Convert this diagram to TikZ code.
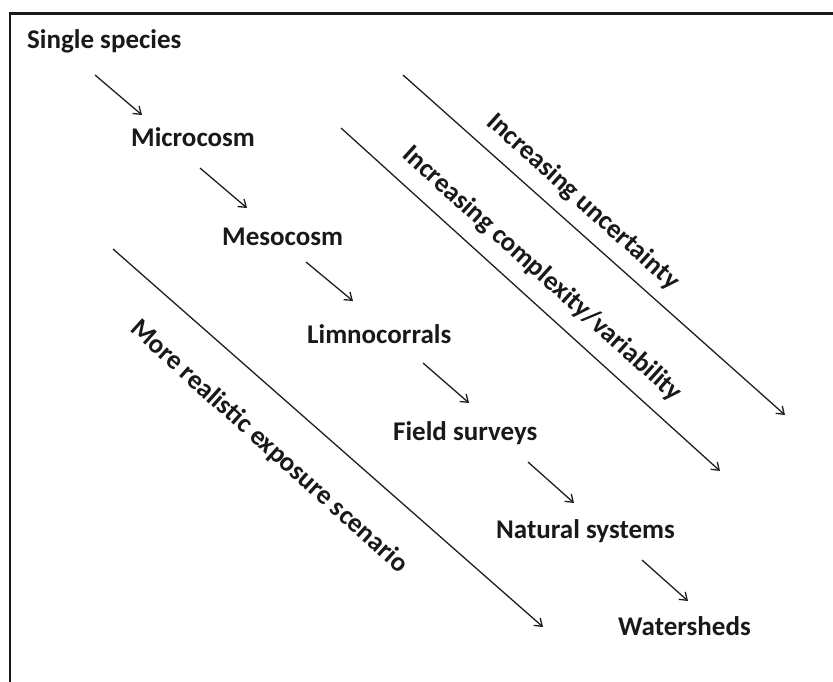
\documentclass[tikz,border=0pt]{standalone}
\usepackage{fontspec}
\setmainfont{Carlito}
\usetikzlibrary{arrows.meta}
\begin{document}
\begin{tikzpicture}[x=1pt,y=-1pt,
  lbl/.style={font=\fontsize{27}{32}\selectfont\bfseries, inner sep=0pt, anchor=base west, text=black!90},
  rlbl/.style={font=\fontsize{27}{32}\selectfont\bfseries, inner sep=0pt, rotate=-42, anchor=center, text=black!90},
  arr/.style={line width=1.3pt, draw=black!88, -{Straight Barb[length=7pt,width=10pt]}},
  frame/.style={line width=2.3pt, draw=black!90}]
\useasboundingbox (0,0) rectangle (833,682);
% frame (top and left edges only)
\coordinate (fb) at (10,682);
\coordinate (fc) at (10,13.5);
\coordinate (fr) at (833,13.5);
\draw[frame] (fb) -- (fc) -- (fr);

% level labels
\node[lbl] (single) at (27,49) {Single species};
\node[lbl] (micro)  at (131,147) {Microcosm};
\node[lbl] (meso)   at (222,245) {Mesocosm};
\node[lbl] (limno)  at (307,343) {Limnocorrals};
\node[lbl] (field)  at (393,440) {Field surveys};
\node[lbl] (natural) at (496,538) {Natural systems};
\node[lbl] (water)  at (618,635) {Watersheds};

% short step arrows
\coordinate (a1s) at (95,75);   \coordinate (a1e) at (142,115);
\coordinate (a2s) at (200,168); \coordinate (a2e) at (247,208);
\coordinate (a3s) at (306,262); \coordinate (a3e) at (353,301);
\coordinate (a4s) at (423,363); \coordinate (a4e) at (469,403);
\coordinate (a5s) at (528,462); \coordinate (a5e) at (574,503);
\coordinate (a6s) at (642,560); \coordinate (a6e) at (688,601);
\draw[arr] (a1s) -- (a1e);
\draw[arr] (a2s) -- (a2e);
\draw[arr] (a3s) -- (a3e);
\draw[arr] (a4s) -- (a4e);
\draw[arr] (a5s) -- (a5e);
\draw[arr] (a6s) -- (a6e);

% long trend arrows
\coordinate (ls) at (113,249); \coordinate (le) at (543,627);
\coordinate (ms) at (341,128); \coordinate (me) at (720,471);
\coordinate (ts) at (403,75);  \coordinate (te) at (785,415);
\draw[arr] (ls) -- (le);
\draw[arr] (ms) -- (me);
\draw[arr] (ts) -- (te);

% trend labels
\node[rlbl] (unc)  at (583,202) {Increasing uncertainty};
\node[rlbl] (comp) at (542,274) {Increasing complexity/variability};
\node[rlbl] (real) at (269,447) {More realistic exposure scenario};
\end{tikzpicture}
\end{document}
